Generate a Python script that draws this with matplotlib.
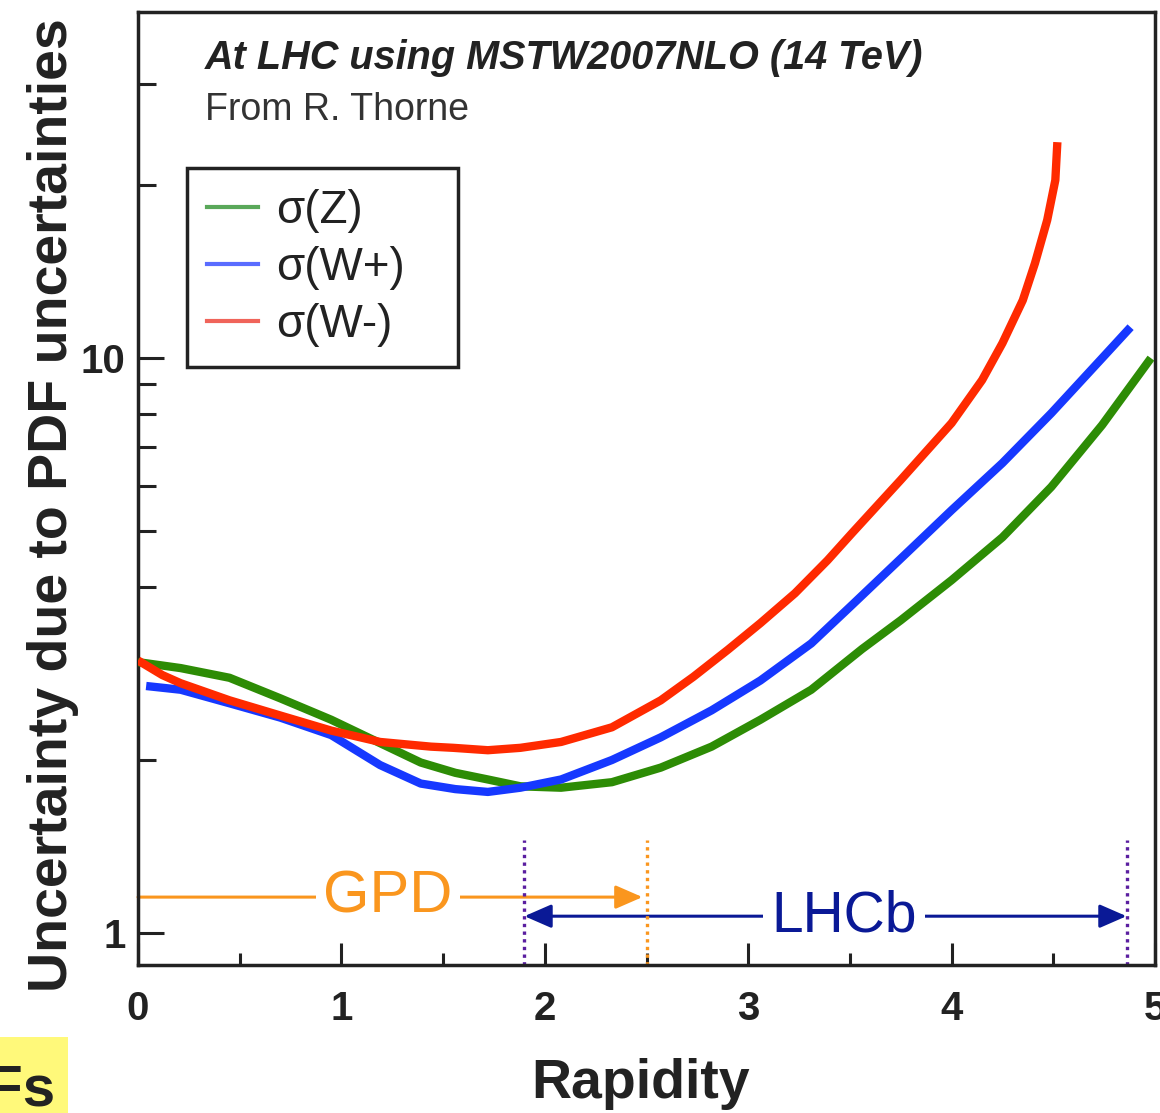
import matplotlib.pyplot as plt
from matplotlib.lines import Line2D
from matplotlib.patches import Rectangle

plt.rcParams['font.family'] = ['Liberation Sans', 'DejaVu Sans']

# PDF uncertainty vs rapidity
x_z = [0.0, 0.21, 0.45, 0.70, 0.95, 1.19, 1.39, 1.56, 1.72, 1.88, 2.08, 2.33, 2.57,
       2.82, 3.06, 3.31, 3.56, 3.75, 4.0, 4.25, 4.49, 4.74, 4.98]
sig_z = [2.96, 2.89, 2.78, 2.56, 2.35, 2.14, 1.98, 1.90, 1.85, 1.80, 1.79, 1.83, 1.94,
         2.11, 2.35, 2.65, 3.12, 3.50, 4.11, 4.88, 5.97, 7.65, 10.0]

x_wp = [0.04, 0.21, 0.45, 0.70, 0.95, 1.19, 1.39, 1.56, 1.72, 1.88, 2.08, 2.33, 2.57,
        2.82, 3.06, 3.31, 3.51, 3.75, 4.0, 4.25, 4.49, 4.74, 4.88]
sig_wp = [2.69, 2.65, 2.51, 2.37, 2.21, 1.96, 1.82, 1.78, 1.76, 1.79, 1.85, 2.0, 2.19,
          2.44, 2.75, 3.19, 3.72, 4.48, 5.44, 6.57, 8.02, 10.0, 11.32]

x_wm = [0.0, 0.12, 0.21, 0.45, 0.70, 0.95, 1.19, 1.44, 1.55, 1.72, 1.88, 2.08, 2.33,
        2.57, 2.73, 2.90, 3.06, 3.23, 3.39, 3.51, 3.75, 4.0, 4.15, 4.25, 4.35, 4.41,
        4.47, 4.51, 4.52]
sig_wm = [2.98, 2.81, 2.72, 2.54, 2.39, 2.25, 2.15, 2.11, 2.10, 2.08, 2.10, 2.15, 2.28,
          2.54, 2.79, 3.11, 3.46, 3.90, 4.45, 4.96, 6.14, 7.71, 9.16, 10.62, 12.61, 14.63,
          17.38, 20.40, 23.75]

labels = ['σ(Z)', 'σ(W+)', 'σ(W-)']

# acceptance ranges
gpd_range = [0.0, 2.48]
lhcb_range = [1.90, 4.86]
gpd_y = 1.155
lhcb_y = 1.07
dotted_purple = [1.90, 4.86]
dotted_orange = [2.5]

green = '#2d8c05'
blue = '#1638ff'
red = '#ff2a00'
orange = '#fa961e'
navy = '#0a1996'
purple = '#5a1ea0'
ink = '#222222'

fig = plt.figure(figsize=(11.6, 11.13), dpi=100)
ax = fig.add_axes([138 / 1160, 1 - 965 / 1113, (1155 - 138) / 1160, (965 - 12) / 1113])

for xs, ys, c in [(x_z, sig_z, green), (x_wp, sig_wp, blue), (x_wm, sig_wm, red)]:
    ax.plot(xs, ys, color=c, lw=6, solid_capstyle='butt', solid_joinstyle='round', zorder=3)

ax.set_yscale('log')
ax.set_xlim(0, 5)
ax.set_ylim(0.88, 40)

ax.set_yticks([1, 10], labels=['1', '10'])
minor_y = [2, 4, 5, 6, 7, 8, 9, 20, 30]
ax.set_yticks(minor_y, labels=[''] * len(minor_y), minor=True)
ax.set_xticks([0, 1, 2, 3, 4, 5], labels=['0', '1', '2', '3', '4', '5'])
minor_x = [0.5, 1.5, 2.5, 3.5, 4.5]
ax.set_xticks(minor_x, labels=[''] * len(minor_x), minor=True)

ax.tick_params(which='both', direction='in', top=False, right=False, width=2.2,
               color=ink, labelcolor=ink)
ax.tick_params(axis='y', which='major', length=19, pad=9, labelsize=29)
ax.tick_params(axis='y', which='minor', length=13)
ax.tick_params(axis='x', which='major', length=16, pad=18, labelsize=29)
ax.tick_params(axis='x', which='minor', length=9)
for lab in ax.get_xticklabels() + ax.get_yticklabels():
    lab.set_fontweight('bold')
for sp in ax.spines.values():
    sp.set_linewidth(2.5)
    sp.set_color(ink)

ax.set_ylabel('Uncertainty due to PDF uncertainties', fontsize=40, fontweight='bold', color=ink)
ax.yaxis.set_label_coords(-0.058, 0.483)
ax.set_xlabel('Rapidity', fontsize=40, fontweight='bold', color=ink)
ax.xaxis.set_label_coords(0.494, -0.0976)

ax.text(0.066, 0.952, 'At LHC using MSTW2007NLO (14 TeV)', transform=ax.transAxes,
        fontsize=28.5, fontweight='bold', style='italic', va='center', color=ink)
ax.text(0.066, 0.897, 'From R. Thorne', transform=ax.transAxes,
        fontsize=27, va='center', color='#333333')

handles = [Line2D([], [], color='#5aa85a', lw=3),
           Line2D([], [], color='#5a6cff', lw=3),
           Line2D([], [], color='#f0645a', lw=3)]
leg = ax.legend(handles, labels, loc='upper left', bbox_to_anchor=(0.048, 0.625, 0.267, 0.211),
                mode='expand', borderaxespad=0, fontsize=33, handlelength=1.1,
                handletextpad=0.4, labelspacing=0.28, borderpad=0.45,
                frameon=True, fancybox=False, edgecolor=ink, framealpha=1)
leg.get_frame().set_linewidth(2.5)
for t in leg.get_texts():
    t.set_color(ink)

# GPD and LHCb ranges
ax.annotate('', xy=(gpd_range[1], gpd_y), xytext=(gpd_range[0], gpd_y),
            arrowprops=dict(arrowstyle='-|>,head_length=1.65,head_width=0.72', color=orange,
                            lw=2.2, shrinkA=0, shrinkB=0), zorder=1)
ax.text(1.23, gpd_y, 'GPD', color=orange, fontsize=43, ha='center', va='center', zorder=2,
        bbox=dict(boxstyle='square,pad=0.12', fc='white', ec='none'))

ax.annotate('', xy=(lhcb_range[1], lhcb_y), xytext=(lhcb_range[0], lhcb_y),
            arrowprops=dict(arrowstyle='<|-|>,head_length=1.65,head_width=0.72', color=navy,
                            lw=2.2, shrinkA=0, shrinkB=0), zorder=1)
ax.text(3.47, lhcb_y, 'LHCb', color=navy, fontsize=41, ha='center', va='center', zorder=2,
        bbox=dict(boxstyle='square,pad=0.15', fc='white', ec='none'))

ax.vlines(dotted_purple, 0.88, 1.45, colors=purple, linestyles=(0, (1, 1.3)), lw=2.4, zorder=2)
ax.vlines(dotted_orange, 0.88, 1.45, colors=orange, linestyles=(0, (1, 1.3)), lw=2.4, zorder=2)

# clipped slide element in the lower-left corner
fig.add_artist(Rectangle((0, 0), 68 / 1160, 76 / 1113, transform=fig.transFigure,
                         facecolor='#fff97a', edgecolor='none'))
fig.text(55 / 1160, 8 / 1113, 'PDFs', fontsize=42, fontweight='bold', ha='right',
         va='baseline', color=ink)

fig.savefig('out.png', dpi=100)
